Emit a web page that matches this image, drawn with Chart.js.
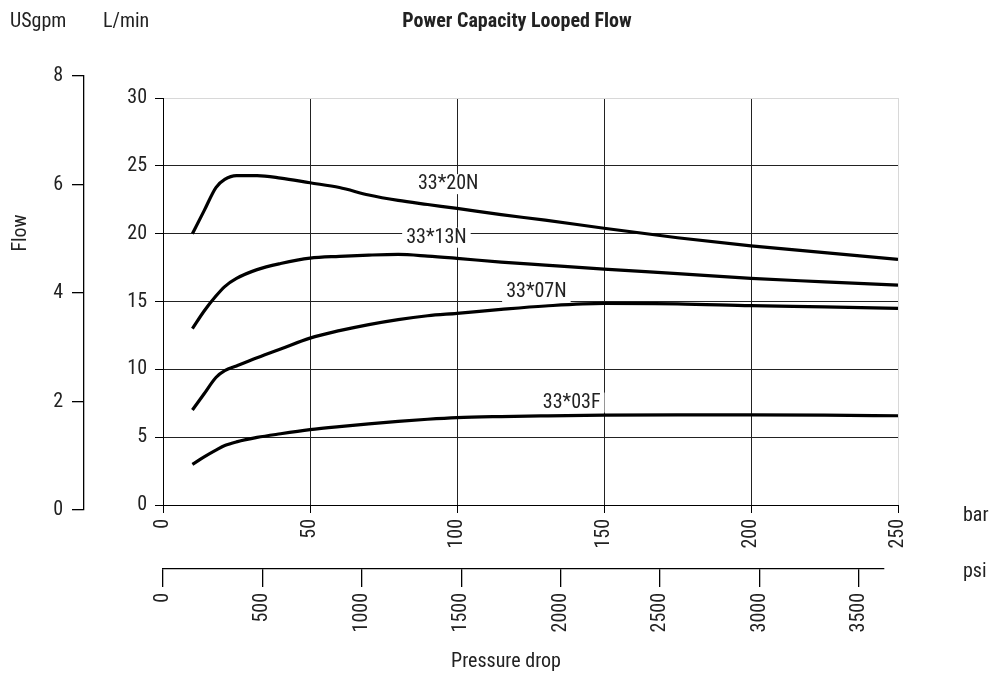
<!DOCTYPE html>
<html>
<head>
<meta charset="utf-8">
<script src="https://cdn.jsdelivr.net/npm/chart.js@4.4.0/dist/chart.umd.min.js"></script>
<style>
  html, body { margin: 0; padding: 0; background: #fff; }
</style>
</head>
<body>
<canvas id="flowChart" width="990" height="679"></canvas>
<script>
// pressure drop (bar) at which the curves were read
const pressureBar = [10, 14, 18, 21, 25, 32, 40, 50, 60, 70, 80, 90, 100, 115, 130, 150, 175, 200, 225, 250];

// flow in L/min for each valve
const flow20N = [20.0, 21.7, 23.4, 24.0, 24.28, 24.28, 24.1, 23.75, 23.4, 22.85, 22.45, 22.15, 21.86, 21.4, 21.0, 20.4, 19.7, 19.1, 18.6, 18.1];
const flow13N = [13.0, 14.3, 15.4, 16.1, 16.7, 17.35, 17.8, 18.2, 18.33, 18.42, 18.47, 18.35, 18.18, 17.9, 17.68, 17.39, 17.05, 16.7, 16.45, 16.2];
const flow07N = [7.0, 8.2, 9.4, 9.9, 10.25, 10.85, 11.5, 12.3, 12.85, 13.3, 13.67, 13.95, 14.13, 14.42, 14.67, 14.86, 14.83, 14.69, 14.6, 14.49];
const flow03F = [3.0, 3.55, 4.05, 4.38, 4.65, 4.98, 5.25, 5.55, 5.78, 5.98, 6.16, 6.32, 6.44, 6.52, 6.57, 6.62, 6.64, 6.64, 6.62, 6.58];

const seriesNames = ['33*20N', '33*13N', '33*07N', '33*03F'];
const seriesFlows = [flow20N, flow13N, flow07N, flow03F];

// where the curve names sit (bar, L/min)
const labelBar = [97, 93, 127, 139];
const labelFlow = [23.65, 19.7, 15.7, 7.55];

// tick labels
const barTicks = [0, 50, 100, 150, 200, 250];
const psiTicks = [0, 500, 1000, 1500, 2000, 2500, 3000, 3500];
const flowTicks = [0, 5, 10, 15, 20, 25, 30];
const gpmTicks = [0, 2, 4, 6, 8];

// axis ranges
const barMax = 250;
const psiMax = 3626; // 250 bar in psi
const flowMax = 30;
const gpmMax = 8;

const FONT = '"Roboto Condensed", "DejaVu Sans Condensed", sans-serif';
const TEXT = '#222';

Chart.defaults.font.family = FONT;
Chart.defaults.font.size = 20;
Chart.defaults.color = TEXT;

const setTicks = list => s => { s.ticks = list.map(v => ({ value: v })); };
const plain = v => String(v);

// extra texts: headers, axis names, curve names
const extraText = {
  id: 'extraText',
  afterDatasetsDraw(chart) {
    const ctx = chart.ctx;
    const xs = chart.scales.x, ys = chart.scales.y;
    ctx.save();
    ctx.font = '20px ' + FONT;
    ctx.textAlign = 'center';
    ctx.textBaseline = 'middle';
    for (let i = 0; i < seriesNames.length; i++) {
      const px = xs.getPixelForValue(labelBar[i]);
      const py = ys.getPixelForValue(labelFlow[i]);
      const w = ctx.measureText(seriesNames[i]).width;
      ctx.fillStyle = '#fff';
      ctx.fillRect(px - w / 2 - 4, py - 10, w + 8, 20);
      ctx.fillStyle = TEXT;
      ctx.fillText(seriesNames[i], px, py);
    }
    ctx.restore();
  },
  afterDraw(chart) {
    const ctx = chart.ctx;
    ctx.save();
    ctx.fillStyle = TEXT;
    ctx.textBaseline = 'alphabetic';
    ctx.font = '20px ' + FONT;
    ctx.textAlign = 'left';
    ctx.fillText('USgpm', 10, 27);
    ctx.fillText('L/min', 103, 27);
    ctx.fillText('bar', 963, 521);
    ctx.fillText('psi', 963, 577);
    ctx.textAlign = 'center';
    ctx.fillText('Pressure drop', 506, 667);
    ctx.font = 'bold 20px ' + FONT;
    ctx.fillText('Power Capacity Looped Flow', 517, 27);
    // vertical axis name
    ctx.font = '20px ' + FONT;
    ctx.translate(26, 233);
    ctx.rotate(-Math.PI / 2);
    ctx.fillText('Flow', 0, 0);
    ctx.restore();
  }
};

// the USgpm and psi axes don't line up exactly with the plot, stretch them like the original
const axisSpan = {
  id: 'axisSpan',
  afterLayout(chart) {
    const a = chart.chartArea;
    const us = chart.scales.yUS;
    us.top = a.top - 22;
    us.bottom = a.bottom + 5;
    us.height = us.bottom - us.top;
    us.configure();
    const psi = chart.scales.xPsi;
    psi.right = a.right - 14;
    psi.width = psi.right - psi.left;
    psi.configure();
  }
};

const datasets = seriesNames.map((name, i) => ({
  label: name,
  data: pressureBar.map((p, j) => ({ x: p, y: seriesFlows[i][j] })),
  borderColor: '#000',
  borderWidth: 3.2,
  pointRadius: 0,
  tension: 0.4,
  cubicInterpolationMode: 'monotone',
  fill: false
}));

const ctx = document.getElementById('flowChart').getContext('2d');
new Chart(ctx, {
  type: 'line',
  data: { datasets },
  options: {
    responsive: false,
    animation: false,
    devicePixelRatio: 1,
    layout: { padding: { top: 98, right: 92, bottom: 0, left: 0 } },
    plugins: { legend: { display: false }, tooltip: { enabled: false }, title: { display: false } },
    scales: {
      x: {
        type: 'linear', position: 'bottom', weight: 0,
        min: 0, max: barMax,
        afterFit: s => { s.height = 64; },
        afterBuildTicks: setTicks(barTicks),
        ticks: { minRotation: 90, maxRotation: 90, padding: 6, color: TEXT, callback: plain },
        grid: {
          color: c => (c.tick && c.tick.value === barMax) ? '#d8d8d8' : '#222',
          tickColor: '#000', tickLength: 8, lineWidth: 1
        },
        border: { color: '#000', width: 1 }
      },
      xPsi: {
        type: 'linear', position: 'bottom', weight: 1,
        min: 0, max: psiMax,
        afterFit: s => { s.height = 110; },
        afterBuildTicks: setTicks(psiTicks),
        ticks: { minRotation: 90, maxRotation: 90, padding: 6, color: TEXT, callback: plain },
        grid: { drawOnChartArea: false, tickColor: '#000', tickLength: 18, lineWidth: 1.3 },
        border: { color: '#000', width: 1.3 }
      },
      y: {
        type: 'linear', position: 'left', weight: 0,
        min: 0, max: flowMax,
        afterFit: s => { s.width = 79; },
        afterBuildTicks: setTicks(flowTicks),
        ticks: { padding: 8, color: TEXT, callback: plain },
        grid: {
          color: c => (c.tick && c.tick.value === flowMax) ? '#d8d8d8' : '#222',
          tickColor: '#000', tickLength: 8, lineWidth: 1
        },
        border: { color: '#000', width: 1 }
      },
      yUS: {
        type: 'linear', position: 'left', weight: 1,
        min: 0, max: gpmMax,
        afterFit: s => { s.width = 84; },
        afterBuildTicks: setTicks(gpmTicks),
        ticks: { padding: 9, color: TEXT, callback: plain },
        grid: { drawOnChartArea: false, tickColor: '#000', tickLength: 12, lineWidth: 1.3 },
        border: { color: '#000', width: 1.3 }
      }
    }
  },
  plugins: [axisSpan, extraText]
});
</script>
</body>
</html>
